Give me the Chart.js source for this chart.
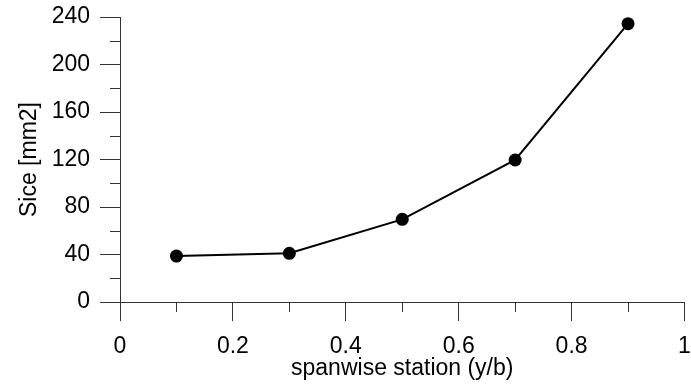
<!DOCTYPE html>
<html>
<head>
<meta charset="utf-8">
<script src="https://cdn.jsdelivr.net/npm/chart.js@4"></script>
<style>
  html, body { margin: 0; padding: 0; background: #fff; }
  #wrap { width: 691px; height: 387px; }
</style>
</head>
<body>
<div id="wrap"><canvas id="iceChart"></canvas></div>
<script>
// spanwise stations and ice area
const stations = [0.1, 0.3, 0.5, 0.7, 0.9];
const iceArea = [38.7, 41, 69.6, 119.6, 234.4];

const xMinorTicks = [0.1, 0.3, 0.5, 0.7, 0.9];
const yMinorTicks = [20, 60, 100, 140, 180, 220];

const axisColor = '#333';
const fontFamily = 'Arial, "Liberation Sans", sans-serif';

// Chart.js has no minor ticks, so draw them through the scales
const minorTicks = {
  id: 'minorTicks',
  afterDraw(chart) {
    const ctx = chart.ctx;
    const xs = chart.scales.x, ys = chart.scales.y;
    ctx.save();
    ctx.strokeStyle = axisColor;
    ctx.lineWidth = 1;
    ctx.beginPath();
    xMinorTicks.forEach(v => {
      const px = Math.round(xs.getPixelForValue(v)) + 0.5;
      ctx.moveTo(px, xs.top);
      ctx.lineTo(px, xs.top + 10);
    });
    yMinorTicks.forEach(v => {
      const py = Math.round(ys.getPixelForValue(v)) + 0.5;
      ctx.moveTo(ys.right, py);
      ctx.lineTo(ys.right - 10, py);
    });
    ctx.stroke();
    ctx.restore();
  }
};

// keep the label overhang from pushing the plot area around
function noPad(s) {
  s.paddingLeft = 0;
  s.paddingRight = 0;
  s.paddingTop = 0;
  s.paddingBottom = 0;
}

new Chart(document.getElementById('iceChart'), {
  type: 'scatter',
  data: {
    datasets: [{
      data: stations.map((s, i) => ({ x: s, y: iceArea[i] })),
      showLine: true,
      borderColor: '#000',
      borderWidth: 2,
      pointRadius: 6.5,
      pointBackgroundColor: '#000',
      pointBorderColor: '#000',
      pointBorderWidth: 0
    }]
  },
  options: {
    responsive: true,
    maintainAspectRatio: false,
    animation: false,
    layout: { padding: { top: 17, right: 5, left: 0, bottom: 0 } },
    plugins: {
      legend: { display: false },
      tooltip: { enabled: false }
    },
    scales: {
      x: {
        type: 'linear',
        min: 0,
        max: 1,
        afterFit: s => { s.height = 85; noPad(s); },
        ticks: {
          stepSize: 0.2,
          color: '#000',
          padding: 12,
          font: { family: fontFamily, size: 23 },
          callback: v => +v.toFixed(1)
        },
        grid: { drawOnChartArea: false, drawTicks: true, tickLength: 19, color: axisColor },
        border: { display: true, color: axisColor, width: 1 },
        title: {
          display: true,
          text: 'spanwise station (y/b)',
          color: '#000',
          font: { family: fontFamily, size: 23 },
          padding: { top: 0, bottom: 5 }
        }
      },
      y: {
        min: 0,
        max: 240,
        afterFit: s => { s.width = 120; noPad(s); },
        ticks: {
          stepSize: 40,
          color: '#000',
          padding: 10,
          font: { family: fontFamily, size: 23 }
        },
        grid: { drawOnChartArea: false, drawTicks: true, tickLength: 20, color: axisColor },
        border: { display: true, color: axisColor, width: 1 },
        title: {
          display: true,
          text: 'Sice [mm2]',
          color: '#000',
          font: { family: fontFamily, size: 23 },
          padding: { top: 16, bottom: 0 }
        }
      }
    }
  },
  plugins: [minorTicks]
});
</script>
</body>
</html>
